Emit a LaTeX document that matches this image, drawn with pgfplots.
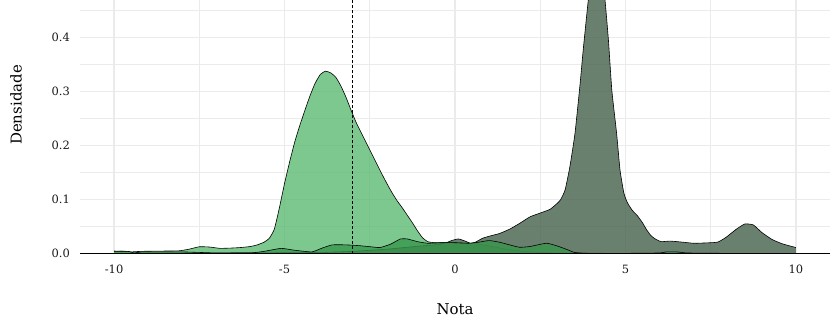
\documentclass[border=0pt]{standalone}
\usepackage{pgfplots}
\usepackage{pgfplotstable}
\pgfplotsset{compat=1.18}
\usepackage{fontspec}
\setmainfont{DejaVu Serif}
\definecolor{lgreen}{HTML}{5BBA72}
\definecolor{dgrey}{HTML}{45604A}
\definecolor{dgreen}{HTML}{38964D}
\definecolor{gridc}{HTML}{EBEBEB}

\pgfplotstableread{
x y
-10 0.0046
-9.7 0.004
-9.5 0.003
-9.2 0.004
-8.6 0.0045
-8.1 0.005
-7.8 0.008
-7.5 0.0125
-7.2 0.012
-6.9 0.0096
-6.6 0.010
-6.3 0.011
-6.0 0.013
-5.8 0.016
-5.6 0.021
-5.45 0.028
-5.3 0.045
-5.15 0.085
-5.0 0.13
-4.85 0.17
-4.7 0.207
-4.55 0.238
-4.4 0.266
-4.25 0.293
-4.1 0.316
-3.95 0.332
-3.8 0.338
-3.65 0.335
-3.5 0.327
-3.35 0.311
-3.2 0.29
-3.05 0.266
-2.9 0.243
-2.75 0.224
-2.6 0.205
-2.45 0.186
-2.3 0.167
-2.15 0.148
-2.0 0.13
-1.85 0.113
-1.7 0.098
-1.55 0.085
-1.4 0.071
-1.25 0.057
-1.1 0.042
-0.95 0.029
-0.8 0.022
-0.6 0.02
-0.4 0.02
-0.2 0.02
0 0.02
0.3 0.019
0.6 0.018
1.0 0.014
1.5 0.008
2.0 0.004
2.5 0.002
3.0 0.001
4.0 0.0005
5 0.0002
6 0.0001
8 0.0001
10 0.0
}\lgtab

\pgfplotstableread{
x y
-10 0.0
-8 0.0005
-6 0.001
-4 0.002
-3 0.004
-2 0.008
-1.5 0.011
-1 0.014
-0.6 0.016
-0.3 0.019
-0.1 0.024
0.1 0.027
0.3 0.023
0.45 0.019
0.6 0.021
0.8 0.028
1.0 0.032
1.3 0.037
1.6 0.045
1.9 0.056
2.2 0.068
2.5 0.075
2.79 0.082
3.0 0.093
3.1 0.100
3.23 0.118
3.37 0.161
3.52 0.223
3.67 0.315
3.76 0.377
3.91 0.47
4.05 0.54
4.15 0.56
4.28 0.54
4.4 0.47
4.5 0.396
4.6 0.303
4.74 0.223
4.84 0.155
4.95 0.113
5.05 0.095
5.2 0.08
5.35 0.07
5.5 0.057
5.62 0.044
5.75 0.033
5.9 0.026
6.05 0.022
6.3 0.023
6.6 0.0215
7.0 0.019
7.3 0.0195
7.7 0.021
7.95 0.03
8.25 0.045
8.5 0.0547
8.75 0.053
9.0 0.039
9.3 0.026
9.6 0.018
10.0 0.011
}\grtab

\pgfplotstableread{
x y
-10 0.004
-9.6 0.004
-9.4 0.001
-9.2 0.003
-8.5 0.003
-8 0.003
-7.5 0.002
-7 0.001
-6 0.001
-5.6 0.004
-5.1 0.0095
-4.7 0.006
-4.2 0.003
-3.9 0.01
-3.6 0.016
-3.2 0.016
-2.8 0.0145
-2.4 0.012
-2.2 0.011
-1.9 0.017
-1.6 0.027
-1.4 0.027
-1.1 0.022
-0.8 0.019
-0.4 0.02
0 0.02
0.4 0.019
0.7 0.021
1.0 0.024
1.3 0.021
1.6 0.016
1.9 0.0115
2.2 0.013
2.5 0.017
2.7 0.019
3.0 0.014
3.3 0.007
3.5 0.002
3.8 0.0005
4 0.0003
5 0.0003
6 0.001
6.2 0.003
6.5 0.003
6.8 0.001
7.5 0.0005
8 0.0003
10 0.0001
}\dgtab

\begin{document}
\begin{tikzpicture}
\useasboundingbox (-80bp,-79.5bp) rectangle (760bp,253.5bp);
\begin{axis}[
  scale only axis, width=750bp, height=253.5bp,
  xmin=-11, xmax=11, ymin=0, ymax=0.47,
  axis line style={draw=none}, tick style={draw=none},
  xtick={-10,-5,0,5,10}, xticklabels={-10,-5,0,5,10},
  ytick={0,0.1,0.2,0.3,0.4}, yticklabels={0.0,0.1,0.2,0.3,0.4},
  minor xtick={-7.5,-2.5,2.5,7.5},
  minor ytick={0.05,0.15,0.25,0.35,0.45},
  grid=both,
  major grid style={draw=gridc, line width=1.3bp},
  minor grid style={draw=gridc, line width=0.8bp},
  xticklabel style={font=\fontsize{11.5}{13}\selectfont, text=black!90, inner sep=0pt, anchor=north, yshift=-11bp},
  yticklabel style={font=\fontsize{11.5}{13}\selectfont, text=black!90, inner sep=0pt, anchor=east, xshift=-10bp},
  xlabel={Nota}, ylabel={Densidade},
  xlabel style={at={(axis description cs:0.5,-0.2387)}, anchor=base, inner sep=0pt, font=\fontsize{15}{18}\selectfont},
  ylabel style={at={(axis description cs:-0.0853,0.586)}, anchor=center, inner sep=0pt, font=\fontsize{15}{18}\selectfont},
]
\addplot[fill=lgreen, fill opacity=0.8, draw=none, smooth, tension=0.3] table {\lgtab} \closedcycle;
\addplot[black, line width=0.6bp, smooth, tension=0.3] table {\lgtab};
\addplot[fill=dgrey, fill opacity=0.8, draw=none, smooth, tension=0.3] table {\grtab} \closedcycle;
\addplot[black, line width=0.6bp, smooth, tension=0.3] table {\grtab};
\addplot[fill=dgreen, fill opacity=0.8, draw=none, smooth, tension=0.3] table {\dgtab} \closedcycle;
\addplot[black, line width=0.6bp, smooth, tension=0.3] table {\dgtab};
\addplot[black, line width=0.6bp, dash pattern=on 3bp off 2bp] coordinates {(-3,0) (-3,0.47)};
\end{axis}
\draw[black, line width=1.1bp] (current axis.south west) -- (current axis.south east);
\end{tikzpicture}
\end{document}
